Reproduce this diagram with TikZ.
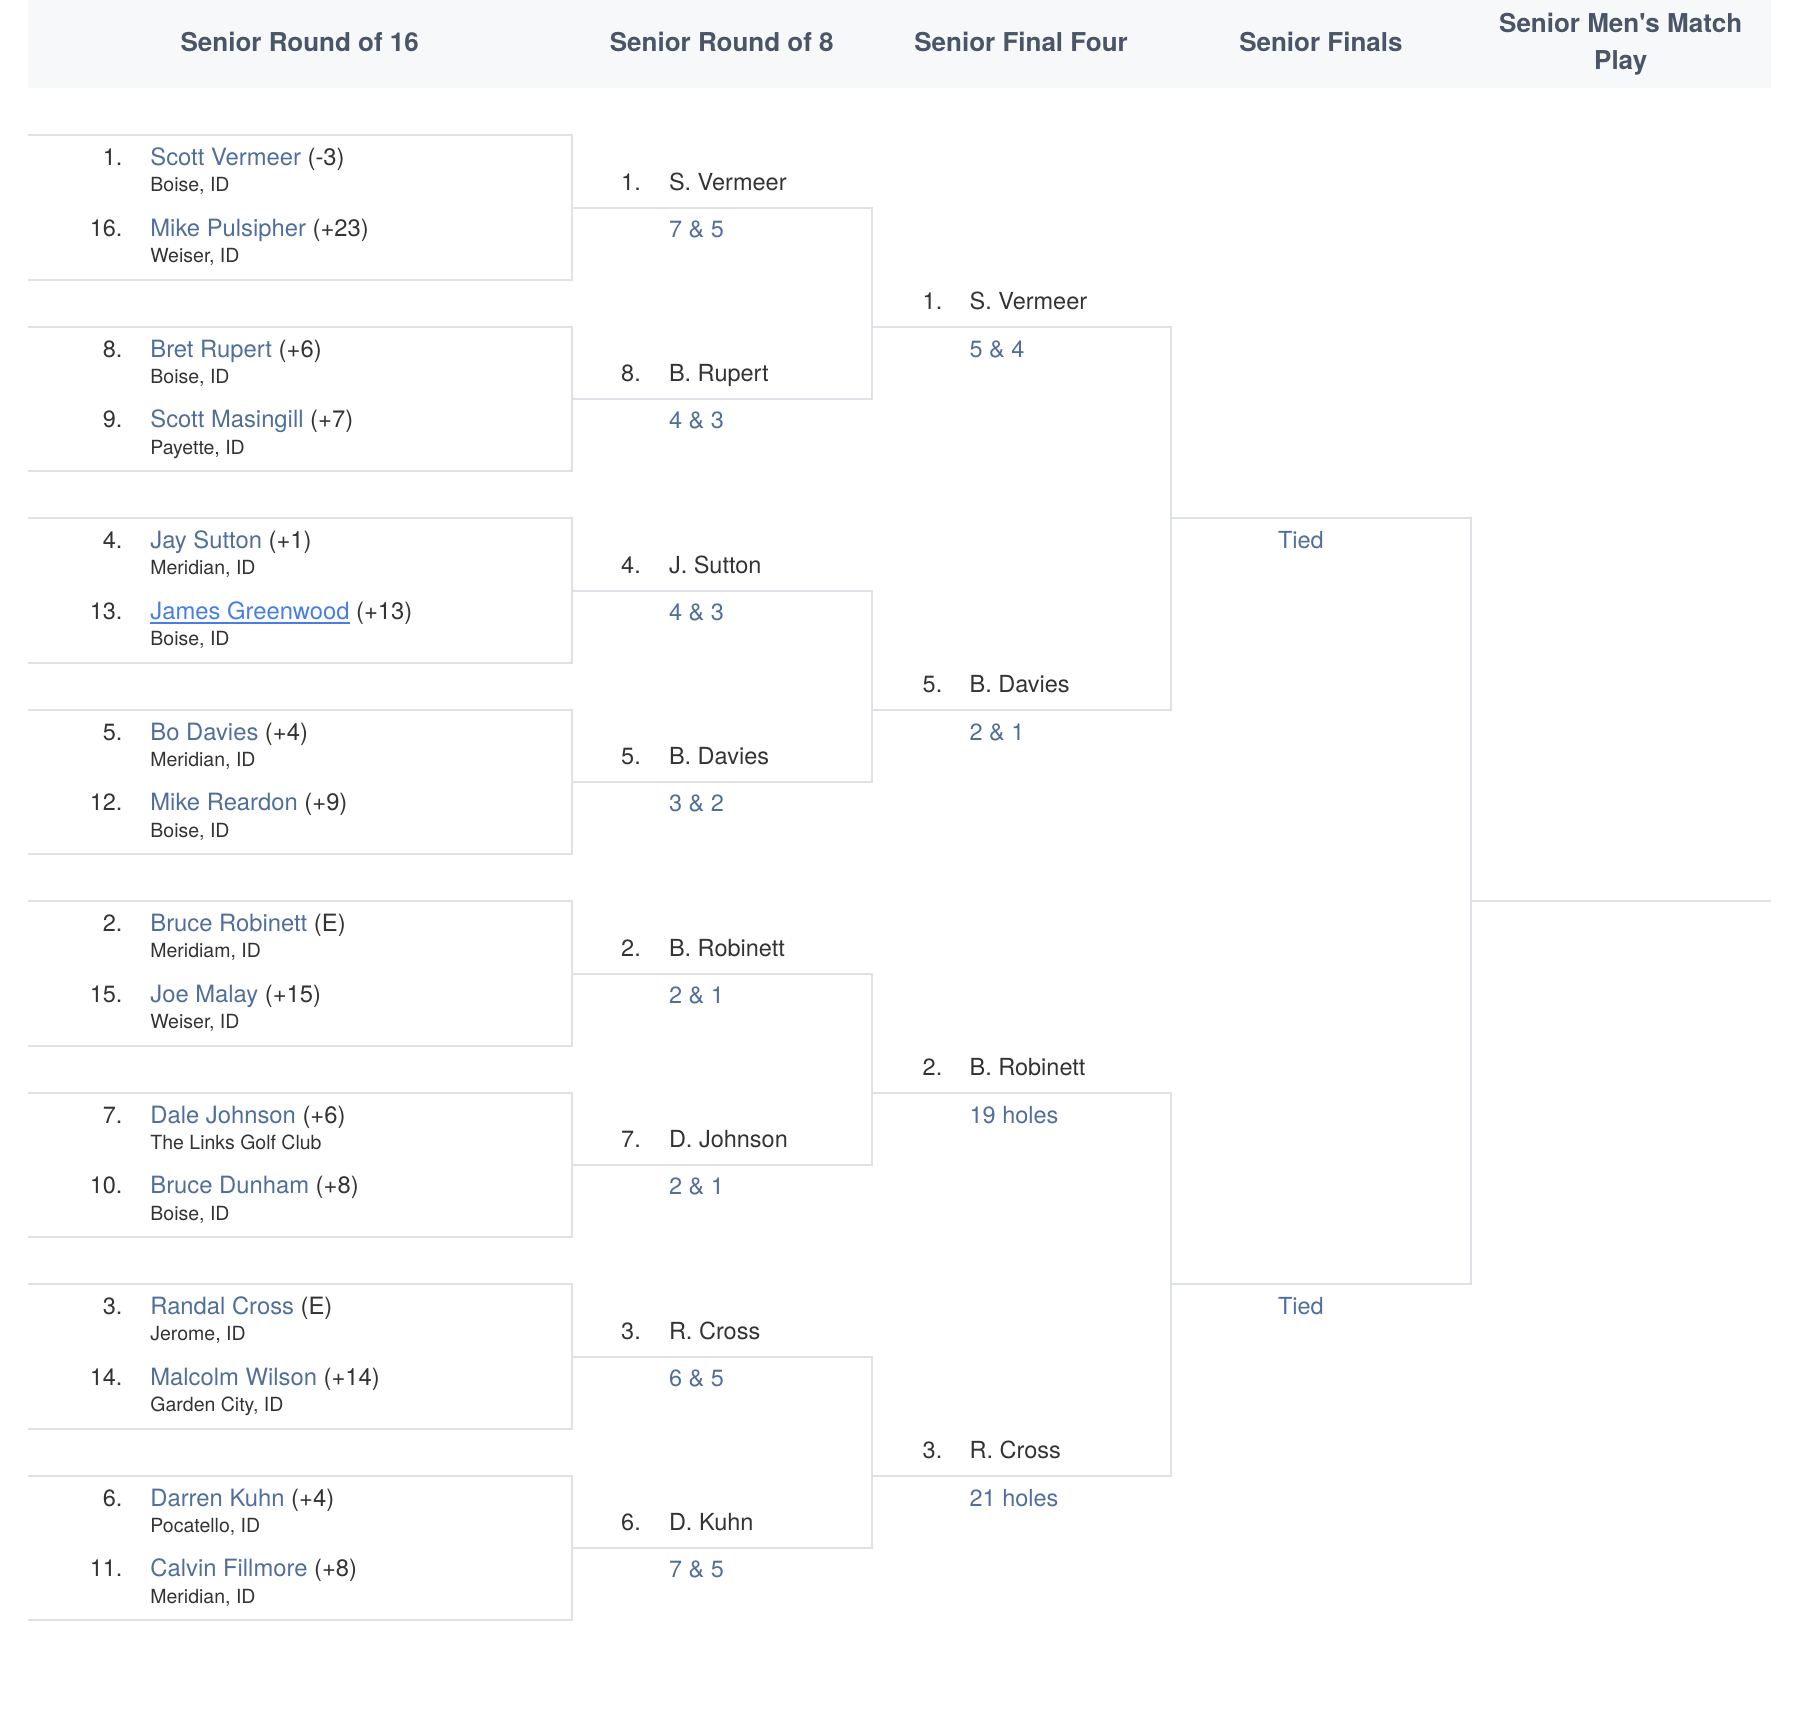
\documentclass[tikz,border=0pt]{standalone}
\usepackage{fontspec}
\setmainfont{TeX Gyre Heros}
\definecolor{hdrbg}{RGB}{247,248,250}
\definecolor{hdrtext}{RGB}{74,85,104}
\definecolor{linec}{RGB}{222,226,230}
\definecolor{link}{RGB}{80,110,155}
\definecolor{linkh}{RGB}{70,126,228}
\definecolor{dark}{RGB}{51,51,51}
\tikzset{
  bl/.style={draw=linec, line width=2pt},
  txt/.style={inner sep=0pt, outer sep=0pt, text=dark},
  big/.style={font=\fontsize{23.5}{28}\selectfont},
  bigger/.style={font=\fontsize{23.8}{28}\selectfont},
  small/.style={font=\fontsize{19.5}{24}\selectfont},
  hdr/.style={font=\bfseries\fontsize{26}{37}\selectfont, text=hdrtext, inner sep=0pt, align=center},
  seedn/.style={txt,big,anchor=base east},
  namen/.style={txt,big,anchor=base west},
  pnamen/.style={txt,bigger,anchor=base west},
  cityn/.style={txt,small,anchor=base west},
  scoren/.style={txt,big,anchor=base west,text=link},
}
\newcommand\lk[1]{\textcolor{link}{#1}}
\newcommand\gw[1]{\setbox0\hbox{#1}\textcolor{linkh}{\rlap{\rule[-4.5pt]{\wd0}{1.6pt}}\box0}}
% Round of 16 box
\newcommand\matchbox[9]{%
  \pgfmathsetmacro\bxT{135.3+191.5*(#1-1)}%
  \pgfmathsetmacro\bxB{\bxT+144.5}%
  \coordinate (tl#1) at (27.5,\bxT);
  \coordinate (tr#1) at (572,\bxT);
  \coordinate (br#1) at (572,\bxB);
  \coordinate (bl#1) at (27.5,\bxB);
  \draw[bl] (tl#1) -- (tr#1) -- (br#1) -- (bl#1);
  \node[seedn] (sa#1) at (122.5,\bxT+30.5) {#2.};
  \node[pnamen] (na#1) at (150.4,\bxT+30.5) {\lk{#3} #4};
  \node[cityn] (ca#1) at (150.4,\bxT+56.6) {#5};
  \node[seedn] (sb#1) at (122.5,\bxT+101) {#6.};
  \node[pnamen] (nb#1) at (150.4,\bxT+101) {\lk{#7} #8};
  \node[cityn] (cb#1) at (150.4,\bxT+127.2) {#9};
}
% Round of 8 entry
\newcommand\roundeight[4]{%
  \pgfmathsetmacro\bxL{135.3+191.5*(#1-1)+72.2}%
  \coordinate (el#1) at (572,\bxL);
  \coordinate (er#1) at (871.5,\bxL);
  \node[seedn] (es#1) at (640.8,\bxL-17.5) {#2.};
  \node[namen] (en#1) at (669,\bxL-17.5) {#3};
  \node[scoren] (ec#1) at (669,\bxL+29.5) {#4};
}
% Final four entry
\newcommand\roundfour[4]{%
  \pgfmathsetmacro\bxL{135.3+191.5*(#1-1)}%
  \coordinate (fl#1) at (871.5,\bxL);
  \coordinate (fr#1) at (1170.8,\bxL);
  \node[seedn] (fs#1) at (942.3,\bxL-17) {#2.};
  \node[namen] (fn#1) at (969.6,\bxL-17) {#3};
  \node[scoren] (fc#1) at (969.6,\bxL+30.5) {#4};
}
% Finals entry
\newcommand\roundfin[2]{%
  \pgfmathsetmacro\bxL{135.3+191.5*(#1-1)}%
  \coordinate (gl#1) at (1170.8,\bxL);
  \coordinate (gr#1) at (1471,\bxL);
  \node[scoren] (gc#1) at (1278,\bxL+30) {#2};
}
\begin{document}
\begin{tikzpicture}[x=1pt,y=-1pt]
\useasboundingbox (0,0) rectangle (1798,1710);
\fill[hdrbg] (27.5,0) rectangle (1770.5,88);
\node[hdr] (h1) at (299.75,42) {Senior Round of 16};
\node[hdr] (h2) at (721.75,42) {Senior Round of 8};
\node[hdr] (h3) at (1021.1,42) {Senior Final Four};
\node[hdr] (h4) at (1320.9,42) {Senior Finals};
\node[hdr] (h5) at (1620.7,44) {Senior Men\textquotesingle s Match\\Play};

\matchbox{1}{1}{Scott Vermeer}{(-3)}{Boise, ID}{16}{Mike Pulsipher}{(+23)}{Weiser, ID}
\matchbox{2}{8}{Bret Rupert}{(+6)}{Boise, ID}{9}{Scott Masingill}{(+7)}{Payette, ID}
\matchbox{3}{4}{Jay Sutton}{(+1)}{Meridian, ID}{13}{\gw{James Greenwood}}{(+13)}{Boise, ID}
\matchbox{4}{5}{Bo Davies}{(+4)}{Meridian, ID}{12}{Mike Reardon}{(+9)}{Boise, ID}
\matchbox{5}{2}{Bruce Robinett}{(E)}{Meridiam, ID}{15}{Joe Malay}{(+15)}{Weiser, ID}
\matchbox{6}{7}{Dale Johnson}{(+6)}{The Links Golf Club}{10}{Bruce Dunham}{(+8)}{Boise, ID}
\matchbox{7}{3}{Randal Cross}{(E)}{Jerome, ID}{14}{Malcolm Wilson}{(+14)}{Garden City, ID}
\matchbox{8}{6}{Darren Kuhn}{(+4)}{Pocatello, ID}{11}{Calvin Fillmore}{(+8)}{Meridian, ID}

\roundeight{1}{1}{S. Vermeer}{7 \& 5}
\roundeight{2}{8}{B. Rupert}{4 \& 3}
\roundeight{3}{4}{J. Sutton}{4 \& 3}
\roundeight{4}{5}{B. Davies}{3 \& 2}
\roundeight{5}{2}{B. Robinett}{2 \& 1}
\roundeight{6}{7}{D. Johnson}{2 \& 1}
\roundeight{7}{3}{R. Cross}{6 \& 5}
\roundeight{8}{6}{D. Kuhn}{7 \& 5}
\draw[bl] (el1) -- (er1) -- (er2) -- (el2);
\draw[bl] (el3) -- (er3) -- (er4) -- (el4);
\draw[bl] (el5) -- (er5) -- (er6) -- (el6);
\draw[bl] (el7) -- (er7) -- (er8) -- (el8);

\roundfour{2}{1}{S. Vermeer}{5 \& 4}
\roundfour{4}{5}{B. Davies}{2 \& 1}
\roundfour{6}{2}{B. Robinett}{19 holes}
\roundfour{8}{3}{R. Cross}{21 holes}
\draw[bl] (fl2) -- (fr2) -- (fr4) -- (fl4);
\draw[bl] (fl6) -- (fr6) -- (fr8) -- (fl8);

\roundfin{3}{Tied}
\roundfin{7}{Tied}
\draw[bl] (gl3) -- (gr3) -- (gr7) -- (gl7);

\coordinate (hl5) at (1471,901.3);
\coordinate (hr5) at (1770.5,901.3);
\draw[bl] (hl5) -- (hr5);
\end{tikzpicture}
\end{document}
